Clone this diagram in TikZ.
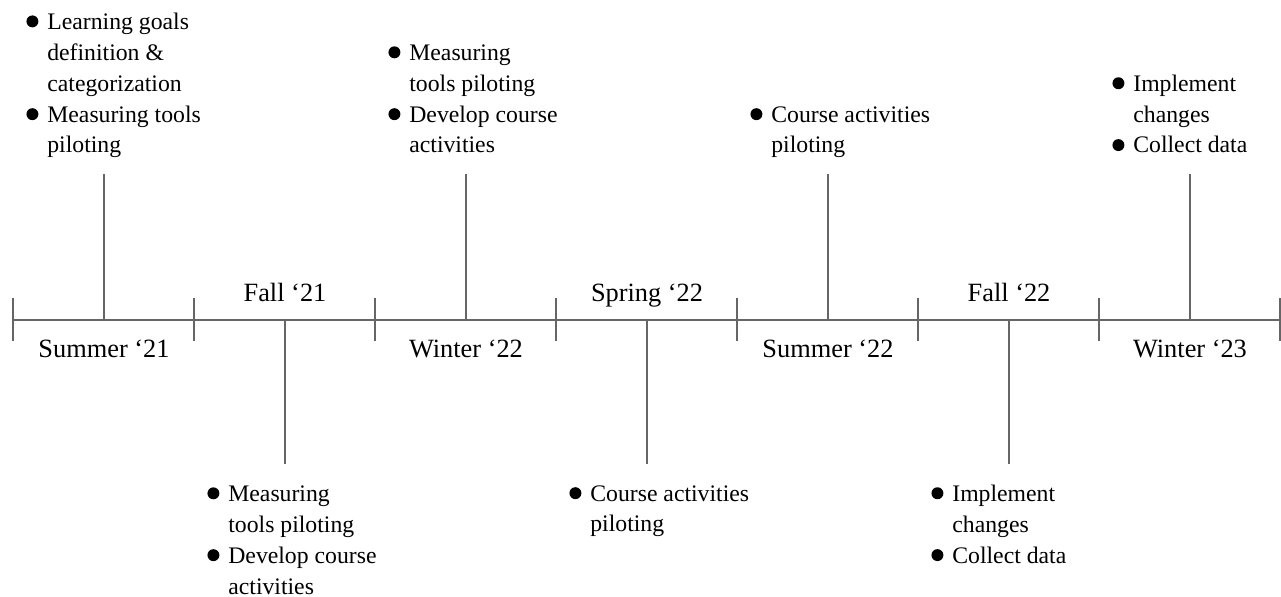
\documentclass[tikz,border=0pt]{standalone}
\usepackage{fontspec}
\setmainfont{Liberation Serif}
\usetikzlibrary{positioning}

\newcommand{\itemdot}{\leavevmode\llap{\tikz[baseline=-4.5pt]\fill (0,0) circle (3.4pt);\hspace{5.1pt}}}

\begin{document}
\begin{tikzpicture}[x=0.02cm,y=-0.02cm,
    line/.style={color=black!60,line width=0.7pt},
    season/.style={font=\fontsize{15}{18}\selectfont,anchor=base,inner sep=0pt},
    todo/.style={font=\fontsize{13.5}{17.6}\selectfont,align=left,anchor=base west,inner sep=0pt}]
  \useasboundingbox (0,0) rectangle (1281,597);

  % axis
  \draw[line] (13,320) -- (1280,320);
  \foreach \x in {13,194,375,556,737,918,1099,1280}
    \draw[line] (\x,298) -- (\x,341);

  % seasons
  \foreach \i/\x/\y/\text in {1/104/358/Summer ‘21,2/285/302/Fall ‘21,3/466/358/Winter ‘22,
      4/647/302/Spring ‘22,5/828/358/Summer ‘22,6/1009/302/Fall ‘22,7/1190/358/Winter ‘23}
    \node[season] (s\i) at (\x,\y) {\text};

  % stems
  \foreach \i/\x/\y in {1/104/174,2/285/464,3/466/174,4/647/464,5/828/174,6/1009/464,7/1190/174}
  {
    \coordinate (a\i) at (\x,320);
    \coordinate (b\i) at (\x,\y);
    \draw[line] (a\i) -- (b\i);
  }

  % tasks (base = last line)
  \node[todo] (t1) at (47,153) {\itemdot Learning goals\\definition \&\\categorization\\\itemdot Measuring tools\\piloting};
  \node[todo] (t2) at (228,594) {\itemdot Measuring\\tools piloting\\\itemdot Develop course\\activities};
  \node[todo] (t3) at (409,153) {\itemdot Measuring\\tools piloting\\\itemdot Develop course\\activities};
  \node[todo] (t4) at (590,532) {\itemdot Course activities\\piloting};
  \node[todo] (t5) at (771,153) {\itemdot Course activities\\piloting};
  \node[todo] (t6) at (952,563) {\itemdot Implement\\changes\\\itemdot Collect data};
  \node[todo] (t7) at (1133,153) {\itemdot Implement\\changes\\\itemdot Collect data};
\end{tikzpicture}
\end{document}
